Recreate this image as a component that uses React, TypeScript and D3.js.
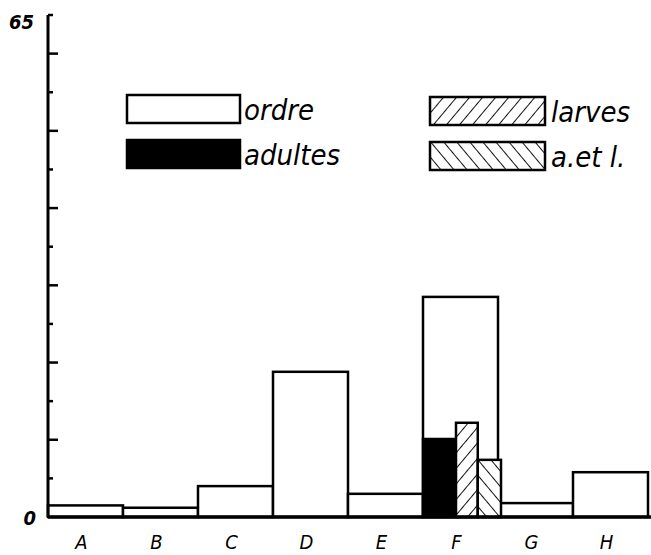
import { useEffect, useRef } from "react";
import * as d3 from "d3";

// values
const categories = ["A", "B", "C", "D", "E", "F", "G", "H"];
const ordre = [1.5, 1.2, 4.0, 18.8, 3.0, 28.5, 1.8, 5.8];
// sub-bars inside group F
const subKeys = ["adultes", "larves", "a.et l."];
const subValues = [10.1, 12.2, 7.4];
const subShares = [0.44, 0.29, 0.31];
const yTicks = d3.range(0, 66, 5);
const yLabels = ["0", "65"];

const W = 651;
const H = 555;
const FONT = "'DejaVu Sans Condensed', 'DejaVu Sans', sans-serif";

export default function App() {
  const ref = useRef<SVGSVGElement>(null);

  useEffect(() => {
    const svg = d3.select(ref.current);
    svg.selectAll("*").remove();

    const x = d3.scaleBand().domain(categories).range([48, 648]).padding(0);
    const y = d3.scaleLinear().domain([0, 65]).range([517, 15]);

    // hatch patterns
    const defs = svg.append("defs");
    const mkPattern = (id: string, angle: number) => {
      const p = defs
        .append("pattern")
        .attr("id", id)
        .attr("patternUnits", "userSpaceOnUse")
        .attr("width", 10)
        .attr("height", 10)
        .attr("patternTransform", `rotate(${angle})`);
      p.append("rect").attr("width", 10).attr("height", 10).attr("fill", "#fff");
      p.append("line")
        .attr("x1", 0).attr("y1", 0).attr("x2", 0).attr("y2", 10)
        .attr("stroke", "#111").attr("stroke-width", 2);
    };
    mkPattern("larves", 40);
    mkPattern("ael", -40);
    const subFill = ["#000", "url(#larves)", "url(#ael)"];

    // main bars
    svg.append("g")
      .selectAll("rect")
      .data(ordre)
      .join("rect")
      .attr("x", (_, i) => x(categories[i])!)
      .attr("y", (d) => y(d))
      .attr("width", x.bandwidth())
      .attr("height", (d) => y(0) - y(d))
      .attr("fill", "#fff")
      .attr("stroke", "#000")
      .attr("stroke-width", 2.5);

    // F sub-bars
    const fx = x("F")!;
    const bw = x.bandwidth();
    let acc = 0;
    const subs = subValues.map((v, i) => {
      const s = { key: subKeys[i], x0: fx + acc * bw, w: subShares[i] * bw, v, fill: subFill[i] };
      acc += subShares[i];
      return s;
    });
    svg.append("g")
      .selectAll("rect")
      .data(subs)
      .join("rect")
      .attr("x", (d) => d.x0)
      .attr("y", (d) => y(d.v))
      .attr("width", (d) => d.w)
      .attr("height", (d) => y(0) - y(d.v))
      .attr("fill", (d) => d.fill)
      .attr("stroke", "#000")
      .attr("stroke-width", 2.5);

    // y axis
    svg.append("line")
      .attr("x1", 48).attr("x2", 48)
      .attr("y1", y(65)).attr("y2", y(0))
      .attr("stroke", "#000").attr("stroke-width", 3);
    svg.append("g")
      .selectAll("line")
      .data(yTicks.slice(1))
      .join("line")
      .attr("x1", 48)
      .attr("x2", (d) => (d % 10 === 0 ? 58 : 53))
      .attr("y1", (d) => y(d))
      .attr("y2", (d) => y(d))
      .attr("stroke", "#000")
      .attr("stroke-width", 2.5);
    svg.append("line")
      .attr("x1", 48).attr("x2", W)
      .attr("y1", y(0)).attr("y2", y(0))
      .attr("stroke", "#000").attr("stroke-width", 3.5);

    svg.append("g")
      .selectAll("text")
      .data(yLabels)
      .join("text")
      .attr("x", (d) => (d === "0" ? 36 : 34))
      .attr("y", (d) => y(+d) + (d === "0" ? 8 : 14))
      .attr("text-anchor", "end")
      .attr("font-family", FONT)
      .attr("font-style", "italic")
      .attr("font-weight", "bold")
      .attr("font-size", 20)
      .text((d) => d);

    // x labels
    svg.append("g")
      .selectAll("text")
      .data(categories)
      .join("text")
      .attr("x", (d) => x(d)! + bw / 2 - 4)
      .attr("y", 549)
      .attr("text-anchor", "middle")
      .attr("font-family", FONT)
      .attr("font-style", "italic")
      .attr("font-size", 20)
      .text((d) => d);

    // legend
    const legend = [
      { label: "ordre", fill: "#fff", lx: 127, ly: 95 },
      { label: "adultes", fill: "#000", lx: 127, ly: 140 },
      { label: "larves", fill: "url(#larves)", lx: 430, ly: 97 },
      { label: "a.et l.", fill: "url(#ael)", lx: 430, ly: 142 },
    ];
    const lg = svg.append("g")
      .selectAll("g")
      .data(legend)
      .join("g")
      .attr("transform", (d) => `translate(${d.lx},${d.ly})`);
    lg.append("rect")
      .attr("width", (d) => (d.lx < 300 ? 113 : 115))
      .attr("height", 28)
      .attr("fill", (d) => d.fill)
      .attr("stroke", "#000")
      .attr("stroke-width", 2.5);
    lg.append("text")
      .attr("x", (d) => (d.lx < 300 ? 117 : 121))
      .attr("y", 25)
      .attr("font-family", FONT)
      .attr("font-style", "italic")
      .attr("font-size", 29)
      .text((d) => d.label);
  }, []);

  return (
    <div style={{ position: "fixed", left: 0, top: 0, background: "#fff" }}>
      <svg ref={ref} width={W} height={H} style={{ display: "block" }} />
    </div>
  );
}
